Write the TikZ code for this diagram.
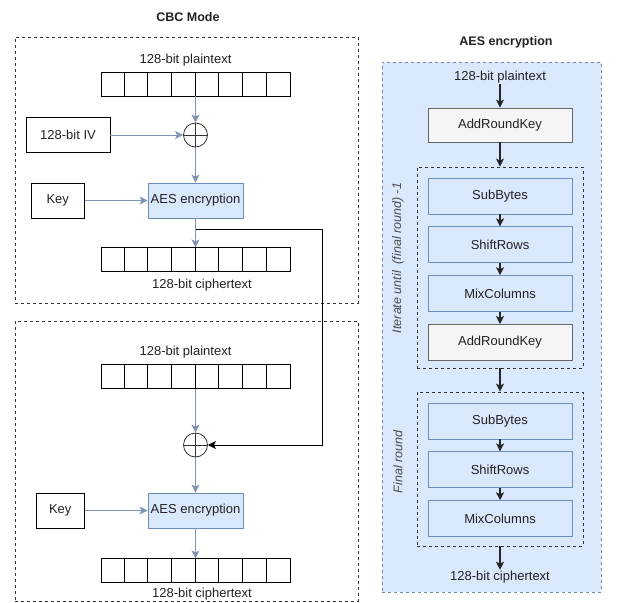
\documentclass[tikz,border=0pt]{standalone}
\usepackage{fontspec}
\setmainfont{Liberation Sans}
\usetikzlibrary{arrows.meta,positioning,calc}
\definecolor{AesBlue}  {HTML}{DAE8FC}
\definecolor{AesEdge}  {HTML}{6C8EBF}
\definecolor{LinkBlue} {HTML}{7E94B4}
\definecolor{StepGray} {HTML}{F5F5F5}
\definecolor{EdgeGray} {HTML}{666666}
\definecolor{TextGray} {HTML}{222222}
\tikzset{
  %% titles and plain labels
  ttl/.style={font=\fontsize{12.5}{15}\selectfont\bfseries,text=TextGray},
  lbl/.style={font=\fontsize{13}{15}\selectfont,inner sep=1pt,text=TextGray},
  %% dashed frames
  frame/.style={rectangle,draw=black!80,dashed,thick,inner sep=0pt},
  bgframe/.style={rectangle,draw=AesEdge!70!gray,dashed,fill=AesBlue,inner sep=0pt},
  %% CBC boxes
  regbox/.style={rectangle,draw,thick,minimum width=189pt,minimum height=24pt,inner sep=0pt},
  wbox/.style={rectangle,draw,thick,font=\fontsize{13}{15}\selectfont,text=TextGray,
               minimum height=35pt,inner sep=0pt},
  aesbox/.style={rectangle,draw=AesEdge,fill=AesBlue,thick,
                 font=\fontsize{13}{15}\selectfont,text=TextGray,
                 minimum width=95pt,minimum height=35pt,inner sep=0pt},
  xorc/.style={circle,draw=black!80,thick,minimum size=24pt,inner sep=0pt,
               path picture={\draw[black!80,thick]
                 (path picture bounding box.north) -- (path picture bounding box.south)
                 (path picture bounding box.west)  -- (path picture bounding box.east);}},
  %% AES step boxes
  stepbox/.style={rectangle,draw=AesEdge,fill=AesBlue,thick,
                  font=\fontsize{13}{15}\selectfont,text=TextGray,
                  minimum width=144pt,minimum height=36pt,inner sep=0pt},
  grstep/.style={stepbox,draw=EdgeGray,fill=StepGray},
  %% round labels
  rlbl/.style={font=\fontsize{12.5}{15}\selectfont\itshape,rotate=90,inner sep=1pt,text=black!70},
  %% arrows
  cbarr/.style={-{Stealth[length=8pt,width=8pt,inset=2pt]},thick,color=LinkBlue},
  fbarr/.style={-{Stealth[length=8pt,width=8pt,inset=2pt]},thick,color=black},
  aesarr/.style={-{Stealth[length=8pt,width=8pt,inset=2pt]},line width=1.5pt,color=black!85},
}
\begin{document}
\begin{tikzpicture}[x=1pt,y=-1pt,node distance=12pt]
  \useasboundingbox (0,0) rectangle (617,602);

  %% CBC Mode
  \node[ttl] (cbcT) at (188,17) {CBC Mode};
  \node[frame,minimum width=343pt,minimum height=266pt] (frTop) at (186.5,170) {};
  \node[frame,minimum width=343pt,minimum height=280pt] (frBot) at (186.5,461) {};

  %% first block
  \node[lbl] (ptLblA) at (185.5,60) {128-bit plaintext};
  \node[regbox] (ptA) at (195.5,84) {};
  \node[xorc] (xorA) at (195.5,135) {};
  \node[wbox,minimum width=84pt] (ivA) at (68,135) {128-bit IV};
  \node[aesbox] (aesA) at (195.5,200.5) {AES encryption};
  \node[wbox,minimum width=53pt,left=63pt of aesA] (keyA) {Key};
  \node[regbox,below=29pt of aesA] (ctA) {};
  \node[lbl,below=6pt of ctA,xshift=6.5pt] (ctLblA) {128-bit ciphertext};

  \draw[cbarr] (ptA.south) -- (xorA.north);
  \draw[cbarr] (ivA.east)  -- (xorA.west);
  \draw[cbarr] (xorA.south)-- (aesA.north);
  \draw[cbarr] (keyA.east) -- (aesA.west);
  \draw[cbarr] (aesA.south)-- (ctA.north);

  %% second block
  \node[lbl] (ptLblB) at (185.5,352) {128-bit plaintext};
  \node[regbox] (ptB) at (195.5,376.5) {};
  \node[xorc] (xorB) at (195.5,445) {};
  \node[aesbox] (aesB) at (195.5,510.5) {AES encryption};
  \node[wbox,minimum width=48pt,left=63pt of aesB] (keyB) {Key};
  \node[regbox,below=30pt of aesB] (ctB) {};
  \node[lbl,below=4pt of ctB,xshift=6.5pt] (ctLblB) {128-bit ciphertext};

  \draw[cbarr] (ptB.south) -- (xorB.north);
  \draw[cbarr] (xorB.south)-- (aesB.north);
  \draw[cbarr] (keyB.east) -- (aesB.west);
  \draw[cbarr] (aesB.south)-- (ctB.north);

  %% register cells
  \foreach \r in {ptA,ctA,ptB,ctB}
    \foreach \k in {1,...,7}
      \draw[thick] ($(\r.north west)+(\k*23.625,0)$) -- ($(\r.south west)+(\k*23.625,0)$);

  %% chaining
  \coordinate (fbStart) at ($(aesA.south)+(0,11)$);
  \coordinate (fbTurn)  at ($(fbStart)+(126.5,0)$);
  \draw[fbarr] (fbStart) -- (fbTurn) |- (xorB.east);

  %% AES encryption
  \node[ttl] (aesT) at (506,42) {AES encryption};
  \node[bgframe,minimum width=219pt,minimum height=530pt] (aesBg) at (491.5,327) {};
  \node[lbl] (inLbl) at (500,77) {128-bit plaintext};
  \node[grstep,minimum height=34pt] (ark0) at (500,125) {AddRoundKey};

  \node[frame,fill=AesBlue,minimum width=166pt,minimum height=201pt] (frLoop) at (500,267.5) {};
  \node[stepbox] (sbA) at (500,196) {SubBytes};
  \node[stepbox,below=of sbA] (srA) {ShiftRows};
  \node[stepbox,below=of srA] (mcA) {MixColumns};
  \node[grstep,below=of mcA]  (arkA) {AddRoundKey};

  \node[frame,fill=AesBlue,minimum width=166pt,minimum height=154pt] (frLast) at (500,469) {};
  \node[stepbox] (sbB) at (500,421) {SubBytes};
  \node[stepbox,below=of sbB] (srB) {ShiftRows};
  \node[stepbox,below=of srB] (mcB) {MixColumns};
  \node[lbl] (outLbl) at (500,577) {128-bit ciphertext};

  \draw[aesarr] (inLbl.south)  -- (ark0.north);
  \draw[aesarr] (ark0.south)   -- (frLoop.north);
  \draw[aesarr] (sbA.south)    -- (srA.north);
  \draw[aesarr] (srA.south)    -- (mcA.north);
  \draw[aesarr] (mcA.south)    -- (arkA.north);
  \draw[aesarr] (frLoop.south) -- (frLast.north);
  \draw[aesarr] (sbB.south)    -- (srB.north);
  \draw[aesarr] (srB.south)    -- (mcB.north);
  \draw[aesarr] (frLast.south) -- (outLbl.north);

  %% round labels
  \node[rlbl] (loopLbl) at (398,258) {Iterate until~~(final round) -1};
  \node[rlbl] (lastLbl) at (398,462) {Final round};
\end{tikzpicture}
\end{document}
